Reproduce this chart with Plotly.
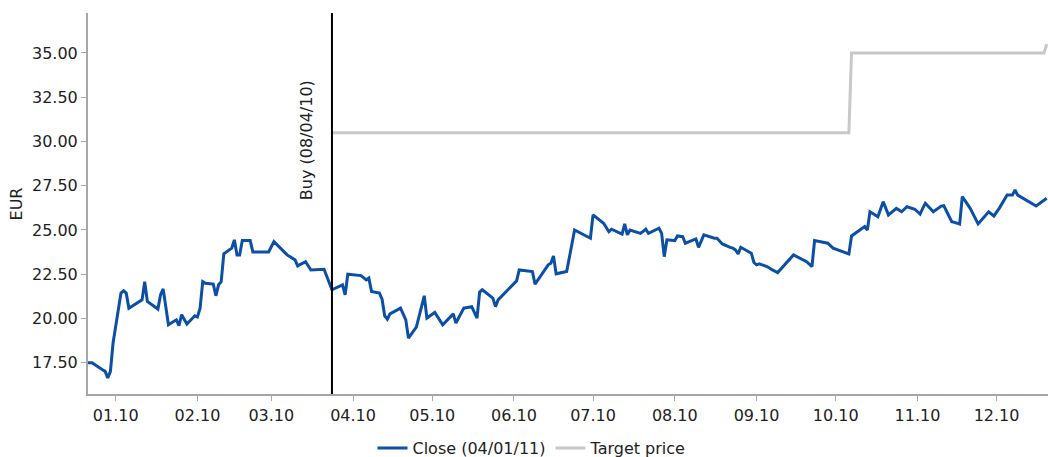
import plotly.graph_objects as go

# Daily closing prices (EUR)
close_dates = [
    "2010-01-05", "2010-01-07", "2010-01-11", "2010-01-12", "2010-01-13", "2010-01-14",
    "2010-01-15", "2010-01-18", "2010-01-19", "2010-01-20", "2010-01-21", "2010-01-25",
    "2010-01-26", "2010-01-27", "2010-01-28", "2010-02-01", "2010-02-02", "2010-02-03",
    "2010-02-05", "2010-02-08", "2010-02-09", "2010-02-10", "2010-02-12", "2010-02-15",
    "2010-02-16", "2010-02-17", "2010-02-18", "2010-02-19", "2010-02-22", "2010-02-23",
    "2010-02-24", "2010-02-25", "2010-02-26", "2010-03-01", "2010-03-02", "2010-03-03",
    "2010-03-04", "2010-03-05", "2010-03-08", "2010-03-09", "2010-03-15", "2010-03-17",
    "2010-03-19", "2010-03-22", "2010-03-25", "2010-03-26", "2010-03-29", "2010-03-31",
    "2010-04-05", "2010-04-08", "2010-04-12", "2010-04-13", "2010-04-14", "2010-04-16",
    "2010-04-19", "2010-04-21", "2010-04-22", "2010-04-23", "2010-04-26", "2010-04-27",
    "2010-04-28", "2010-04-29", "2010-04-30", "2010-05-04", "2010-05-06", "2010-05-07",
    "2010-05-10", "2010-05-13", "2010-05-14", "2010-05-17", "2010-05-20", "2010-05-24",
    "2010-05-25", "2010-05-28", "2010-05-31", "2010-06-02", "2010-06-03", "2010-06-04",
    "2010-06-08", "2010-06-09", "2010-06-10", "2010-06-17", "2010-06-18", "2010-06-23",
    "2010-06-24", "2010-06-29", "2010-06-30", "2010-07-01", "2010-07-02", "2010-07-06",
    "2010-07-07", "2010-07-09", "2010-07-15", "2010-07-16", "2010-07-20", "2010-07-22",
    "2010-07-23", "2010-07-27", "2010-07-28", "2010-07-29", "2010-07-30", "2010-08-03",
    "2010-08-05", "2010-08-06", "2010-08-10", "2010-08-11", "2010-08-12", "2010-08-13",
    "2010-08-16", "2010-08-17", "2010-08-19", "2010-08-20", "2010-08-24", "2010-08-25",
    "2010-08-27", "2010-08-31", "2010-09-01", "2010-09-03", "2010-09-06", "2010-09-07",
    "2010-09-08", "2010-09-09", "2010-09-10", "2010-09-14", "2010-09-15", "2010-09-16",
    "2010-09-17", "2010-09-20", "2010-09-22", "2010-09-24", "2010-09-30", "2010-10-05",
    "2010-10-07", "2010-10-08", "2010-10-13", "2010-10-15", "2010-10-21", "2010-10-22",
    "2010-10-27", "2010-10-28", "2010-10-29", "2010-11-01", "2010-11-03", "2010-11-05",
    "2010-11-08", "2010-11-10", "2010-11-11", "2010-11-12", "2010-11-15", "2010-11-17",
    "2010-11-18", "2010-11-19", "2010-11-22", "2010-11-25", "2010-11-26", "2010-11-29",
    "2010-11-30", "2010-12-02", "2010-12-03", "2010-12-06", "2010-12-09", "2010-12-13",
    "2010-12-15", "2010-12-17", "2010-12-20", "2010-12-22", "2010-12-23", "2010-12-24",
    "2010-12-31", "2011-01-04",
]
close_values = [
    17.50, 17.50, 17.10, 17.01, 16.64, 17.01,
    18.61, 21.43, 21.56, 21.43, 20.58, 20.96,
    21.05, 22.08, 20.96, 20.53, 21.33, 21.67,
    19.64, 19.92, 19.59, 20.21, 19.68, 20.15,
    20.08, 20.58, 22.08, 21.99, 21.94, 21.28,
    21.90, 22.08, 23.65, 23.97, 24.44, 23.59,
    23.59, 24.40, 24.40, 23.76, 23.76, 24.34,
    24.06, 23.59, 23.31, 22.97, 23.21, 22.74,
    22.78, 21.62, 21.90, 21.33, 22.50, 22.46,
    22.42, 22.18, 22.28, 21.52, 21.43, 21.09,
    20.15, 19.96, 20.26, 20.58, 19.92, 18.89,
    19.51, 21.28, 20.02, 20.34, 19.64, 20.26,
    19.74, 20.58, 20.67, 20.02, 21.49, 21.62,
    21.15, 20.67, 21.05, 22.12, 22.74, 22.65,
    21.94, 23.03, 23.12, 23.53, 22.52, 22.65,
    23.40, 25.00, 24.53, 25.85, 25.38, 24.90,
    25.04, 24.77, 25.34, 24.72, 25.00, 24.81,
    25.04, 24.81, 25.10, 24.81, 23.49, 24.44,
    24.40, 24.66, 24.62, 24.25, 24.49, 24.02,
    24.72, 24.53, 24.53, 24.21, 24.02, 23.97,
    23.87, 23.65, 24.02, 23.69, 23.16, 23.03,
    23.08, 22.93, 22.74, 22.59, 23.59, 23.21,
    22.93, 24.40, 24.25, 23.97, 23.65, 24.66,
    25.19, 25.00, 26.03, 25.75, 26.60, 25.85,
    26.22, 26.03, 26.17, 26.31, 26.17, 25.90,
    26.22, 26.51, 26.03, 26.35, 26.37, 25.47,
    25.43, 25.34, 26.88, 26.22, 25.34, 26.03,
    25.79, 26.22, 26.97, 26.97, 27.26, 26.97,
    26.35, 26.79,
]

# Analyst target price (EUR)
target_dates = ["2010-04-08", "2010-10-21", "2010-10-22", "2011-01-03", "2011-01-04"]
target_values = [30.5, 30.5, 35.0, 35.0, 35.5]

buy_date = "2010-04-08"
buy_label = "Buy (08/04/10)"

# Month labels, placed mid-month
tick_dates = ["2010-%02d-16" % m for m in range(1, 13)]
tick_labels = ["%02d.10" % m for m in range(1, 13)]

y_ticks = [17.5, 20.0, 22.5, 25.0, 27.5, 30.0, 32.5, 35.0]
y_labels = ["%.2f" % v for v in y_ticks]

BLUE = "#0b4fa6"
GREY = "#c8c8c8"
AXIS = "#a6a6a6"
TEXT = "#222222"
FONT = "DejaVu Sans"

fig = go.Figure()
fig.add_trace(go.Scatter(
    x=close_dates, y=close_values, mode="lines", name="Close (04/01/11)",
    line=dict(color=BLUE, width=3),
))
fig.add_trace(go.Scatter(
    x=target_dates, y=target_values, mode="lines", name="Target price",
    line=dict(color=GREY, width=3),
))

fig.add_shape(type="line", xref="x", yref="paper", x0=buy_date, x1=buy_date,
              y0=0, y1=1, line=dict(color="black", width=2))
fig.add_annotation(x=buy_date, y=30.1, xref="x", yref="y", text=buy_label,
                   textangle=-90, showarrow=False, xanchor="right", xshift=-14,
                   font=dict(family=FONT, size=16, color=TEXT))
fig.add_annotation(x=-0.074, y=0.5, xref="paper", yref="paper", text="EUR",
                   textangle=-90, showarrow=False, xanchor="center", yanchor="middle",
                   font=dict(family=FONT, size=16, color=TEXT))

fig.update_layout(
    width=1048, height=457,
    margin=dict(l=88, r=0, t=13, b=63, autoexpand=False),
    plot_bgcolor="white", paper_bgcolor="white",
    font=dict(family=FONT, size=16, color=TEXT),
    showlegend=True,
    legend=dict(orientation="h", x=0.4625, xanchor="center", y=-0.142,
                yanchor="middle", font=dict(family=FONT, size=16, color=TEXT),
                itemwidth=30),
    xaxis=dict(
        type="date", range=["2010-01-05 12:00", "2011-01-04 12:00"],
        tickmode="array", tickvals=tick_dates, ticktext=tick_labels,
        showline=True, linecolor=AXIS, linewidth=2, mirror=False,
        ticks="outside", ticklen=5, tickcolor=AXIS, tickwidth=1,
        ticklabelstandoff=1,
        showgrid=False, zeroline=False, automargin=False,
    ),
    yaxis=dict(
        range=[15.73, 37.26],
        tickmode="array", tickvals=y_ticks, ticktext=y_labels,
        showline=True, linecolor=AXIS, linewidth=2,
        ticks="outside", ticklen=5, tickcolor=AXIS, tickwidth=1,
        showgrid=False, zeroline=False, automargin=False,
    ),
)

fig.write_html("out.html")
